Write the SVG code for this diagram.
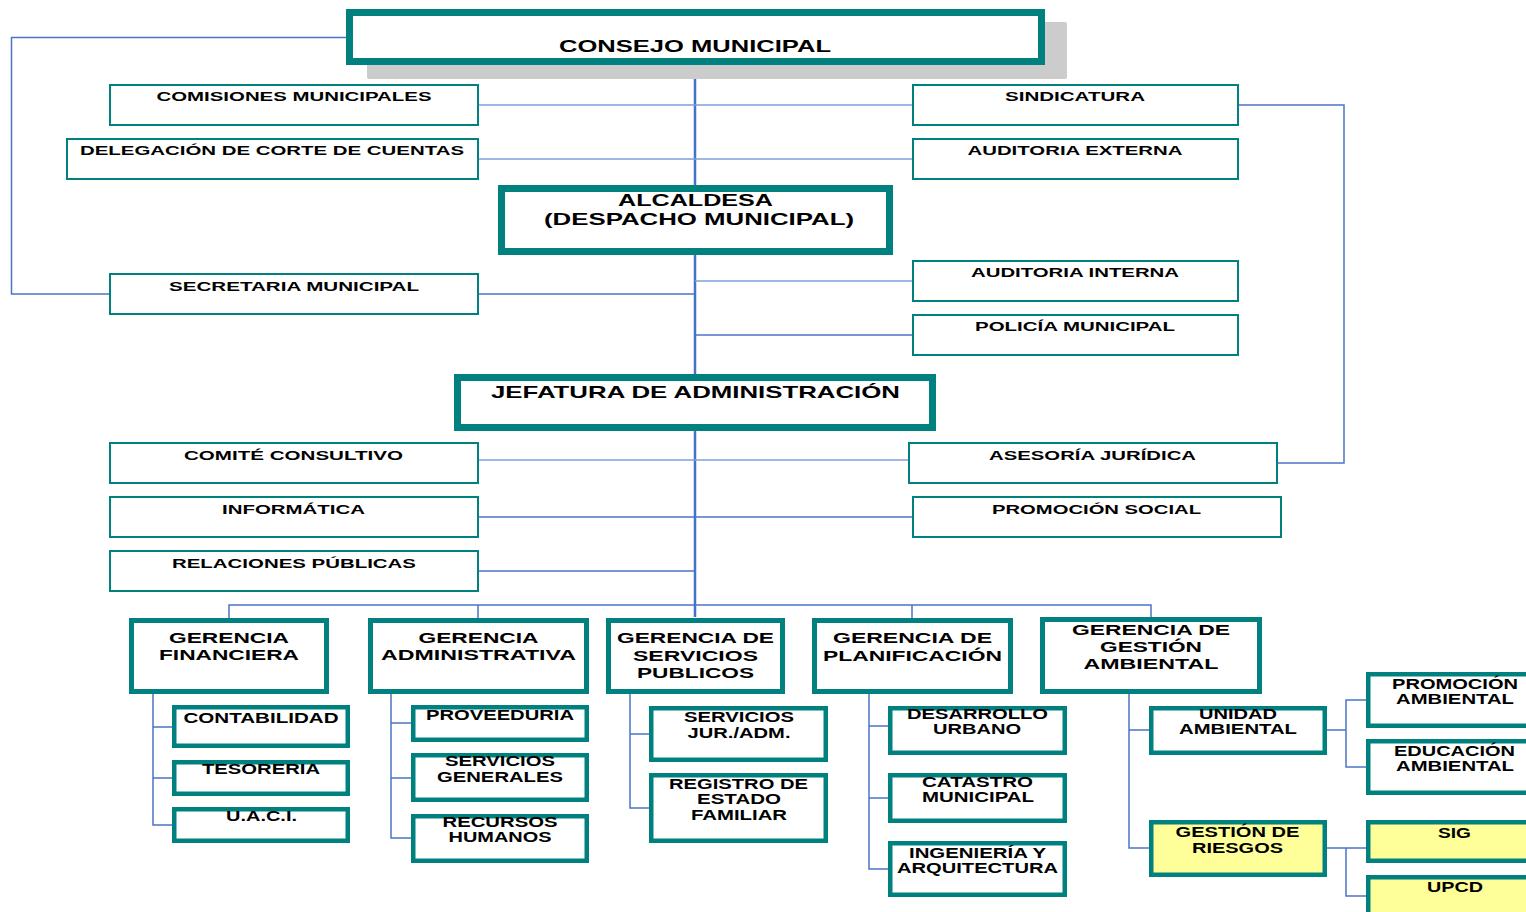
<svg xmlns="http://www.w3.org/2000/svg" width="1526" height="912" viewBox="0 0 1526 912">
<style>
.bg{fill:#ffffff}
.big{fill:#ffffff;stroke:#00807F;stroke-width:7}
.thin{fill:#ffffff;stroke:#00807F;stroke-width:2}
.ger{fill:#ffffff;stroke:#00807F;stroke-width:5}
.sub{fill:#ffffff;stroke:#00807F;stroke-width:4.5}
.yel{fill:#FFFF99;stroke:#00807F;stroke-width:4.5}
.c{fill:none;stroke:#4A74C6;stroke-width:1.5}
.cl{fill:none;stroke:#7E9FDA;stroke-width:1.5}
.cm{fill:none;stroke:#4472C4;stroke-width:2.5}
text{font-family:"Liberation Sans",Arial,sans-serif;font-weight:bold;fill:#000;text-anchor:middle}
.s17{font-size:17px}
.s15{font-size:15px}
.s14{font-size:14px}
.s13{font-size:13px}
</style>
<rect class="bg" x="0" y="0" width="1526" height="912"/>
<g id="connectors">
<path class="cm" d="M695 65 V617"/>
<path class="c" d="M346 37.5 H11.5 V294 H109"/>
<path class="cl" d="M479 105 H912"/>
<path class="cl" d="M479 159 H912"/>
<path class="c" d="M1239 105 H1344 V463 H1278"/>
<path class="c" d="M479 294 H695"/>
<path class="cl" d="M695 281 H912"/>
<path class="c" d="M695 335 H912"/>
<path class="cl" d="M479 460 H908"/>
<path class="c" d="M479 517 H912"/>
<path class="c" d="M479 571 H695"/>
<path class="c" d="M229 618 V605 H1151 V617"/>
<path class="c" d="M478 605 V618"/>
<path class="c" d="M912 605 V618"/>
<path class="c" d="M153 694 V825 H172 M153 727 H172 M153 778 H172"/>
<path class="c" d="M391 694 V838 H411 M391 723 H411 M391 778 H411"/>
<path class="c" d="M630 694 V808 H649 M630 734 H649"/>
<path class="c" d="M869 694 V869 H888 M869 726 H888 M869 798 H888"/>
<path class="c" d="M1129 694 V848 H1149 M1129 730 H1149"/>
<path class="c" d="M1327 730 H1346 M1366 700 H1346 V767 H1366"/>
<path class="c" d="M1327 848 H1366 M1346 848 V896 H1366"/>
</g>
<g id="consejo">
<rect x="367" y="22" width="700" height="57" rx="2" fill="#CCCCCC"/>
<rect class="big" x="349.5" y="12.5" width="692" height="49"/>
<text class="s17" x="695" y="52" textLength="272" lengthAdjust="spacingAndGlyphs">CONSEJO MUNICIPAL</text>
</g>
<g id="comisiones">
<rect class="thin" x="110" y="85" width="368" height="40"/>
<text class="s13" x="294" y="101" textLength="275" lengthAdjust="spacingAndGlyphs">COMISIONES MUNICIPALES</text>
</g>
<g id="delegacion">
<rect class="thin" x="67" y="139" width="411" height="40"/>
<text class="s13" x="272" y="155" textLength="384" lengthAdjust="spacingAndGlyphs">DELEGACIÓN DE CORTE DE CUENTAS</text>
</g>
<g id="sindicatura">
<rect class="thin" x="913" y="85" width="325" height="40"/>
<text class="s13" x="1075" y="101" textLength="140" lengthAdjust="spacingAndGlyphs">SINDICATURA</text>
</g>
<g id="auditoria-externa">
<rect class="thin" x="913" y="139" width="325" height="40"/>
<text class="s13" x="1075" y="155" textLength="215" lengthAdjust="spacingAndGlyphs">AUDITORIA EXTERNA</text>
</g>
<g id="alcaldesa">
<rect class="big" x="501.5" y="188.5" width="388" height="63"/>
<text class="s17" x="695.5" y="206" textLength="155" lengthAdjust="spacingAndGlyphs">ALCALDESA</text>
<text class="s17" x="699" y="225" textLength="310" lengthAdjust="spacingAndGlyphs">(DESPACHO MUNICIPAL)</text>
</g>
<g id="secretaria">
<rect class="thin" x="110" y="274" width="368" height="40"/>
<text class="s13" x="294" y="291" textLength="250" lengthAdjust="spacingAndGlyphs">SECRETARIA MUNICIPAL</text>
</g>
<g id="auditoria-interna">
<rect class="thin" x="913" y="261" width="325" height="40"/>
<text class="s13" x="1075" y="277" textLength="208" lengthAdjust="spacingAndGlyphs">AUDITORIA INTERNA</text>
</g>
<g id="policia">
<rect class="thin" x="913" y="315" width="325" height="40"/>
<text class="s13" x="1075" y="331" textLength="200" lengthAdjust="spacingAndGlyphs">POLICÍA MUNICIPAL</text>
</g>
<g id="jefatura">
<rect class="big" x="457.5" y="377.5" width="475" height="50"/>
<text class="s17" x="695.5" y="398" textLength="409" lengthAdjust="spacingAndGlyphs">JEFATURA DE ADMINISTRACIÓN</text>
</g>
<g id="comite">
<rect class="thin" x="110" y="443" width="368" height="40"/>
<text class="s13" x="293.5" y="460" textLength="219" lengthAdjust="spacingAndGlyphs">COMITÉ CONSULTIVO</text>
</g>
<g id="informatica">
<rect class="thin" x="110" y="497" width="368" height="40"/>
<text class="s13" x="293.5" y="514" textLength="143" lengthAdjust="spacingAndGlyphs">INFORMÁTICA</text>
</g>
<g id="relaciones">
<rect class="thin" x="110" y="551" width="368" height="40"/>
<text class="s13" x="294" y="568" textLength="244" lengthAdjust="spacingAndGlyphs">RELACIONES PÚBLICAS</text>
</g>
<g id="asesoria">
<rect class="thin" x="909" y="443" width="368" height="40"/>
<text class="s13" x="1092.5" y="460" textLength="207" lengthAdjust="spacingAndGlyphs">ASESORÍA JURÍDICA</text>
</g>
<g id="promocion-social">
<rect class="thin" x="913" y="497" width="368" height="40"/>
<text class="s13" x="1096.5" y="514" textLength="209" lengthAdjust="spacingAndGlyphs">PROMOCIÓN SOCIAL</text>
</g>
<g id="ger-financiera">
<rect class="ger" x="131.5" y="620.5" width="195" height="71"/>
<text class="s15" x="229" y="643" textLength="120" lengthAdjust="spacingAndGlyphs">GERENCIA</text>
<text class="s15" x="229" y="660" textLength="140" lengthAdjust="spacingAndGlyphs">FINANCIERA</text>
</g>
<g id="ger-administrativa">
<rect class="ger" x="370.5" y="620.5" width="216" height="71"/>
<text class="s15" x="478.5" y="643" textLength="120" lengthAdjust="spacingAndGlyphs">GERENCIA</text>
<text class="s15" x="478.5" y="660" textLength="195" lengthAdjust="spacingAndGlyphs">ADMINISTRATIVA</text>
</g>
<g id="ger-servicios">
<rect class="ger" x="608.5" y="620.5" width="174" height="71"/>
<text class="s15" x="695.5" y="643" textLength="157" lengthAdjust="spacingAndGlyphs">GERENCIA DE</text>
<text class="s15" x="695.5" y="661" textLength="125" lengthAdjust="spacingAndGlyphs">SERVICIOS</text>
<text class="s15" x="695.5" y="678" textLength="117" lengthAdjust="spacingAndGlyphs">PUBLICOS</text>
</g>
<g id="ger-planificacion">
<rect class="ger" x="814.5" y="620.5" width="196" height="71"/>
<text class="s15" x="912.5" y="643" textLength="159" lengthAdjust="spacingAndGlyphs">GERENCIA DE</text>
<text class="s15" x="912.5" y="661" textLength="179" lengthAdjust="spacingAndGlyphs">PLANIFICACIÓN</text>
</g>
<g id="ger-ambiental">
<rect class="ger" x="1042.5" y="619.5" width="217" height="72"/>
<text class="s15" x="1151" y="635" textLength="158" lengthAdjust="spacingAndGlyphs">GERENCIA DE</text>
<text class="s15" x="1151" y="652" textLength="102" lengthAdjust="spacingAndGlyphs">GESTIÓN</text>
<text class="s15" x="1151" y="669" textLength="135" lengthAdjust="spacingAndGlyphs">AMBIENTAL</text>
</g>
<g id="contabilidad">
<rect class="sub" x="174.25" y="707.25" width="173.5" height="38.5"/>
<text class="s14" x="261" y="723" textLength="155" lengthAdjust="spacingAndGlyphs">CONTABILIDAD</text>
</g>
<g id="tesoreria">
<rect class="sub" x="174.25" y="762.25" width="173.5" height="31.5"/>
<text class="s14" x="261" y="774" textLength="118" lengthAdjust="spacingAndGlyphs">TESORERIA</text>
</g>
<g id="uaci">
<rect class="sub" x="174.25" y="809.25" width="173.5" height="31.5"/>
<text class="s14" x="261.5" y="821" textLength="71" lengthAdjust="spacingAndGlyphs">U.A.C.I.</text>
</g>
<g id="proveeduria">
<rect class="sub" x="413.25" y="707.25" width="173.5" height="32.5"/>
<text class="s14" x="500" y="720" textLength="148" lengthAdjust="spacingAndGlyphs">PROVEEDURIA</text>
</g>
<g id="servicios-generales">
<rect class="sub" x="413.25" y="755.25" width="173.5" height="44.5"/>
<text class="s14" x="500" y="766" textLength="110" lengthAdjust="spacingAndGlyphs">SERVICIOS</text>
<text class="s14" x="500" y="782" textLength="126" lengthAdjust="spacingAndGlyphs">GENERALES</text>
</g>
<g id="recursos-humanos">
<rect class="sub" x="413.25" y="816.25" width="173.5" height="44.5"/>
<text class="s14" x="500" y="827" textLength="115" lengthAdjust="spacingAndGlyphs">RECURSOS</text>
<text class="s14" x="500" y="842" textLength="103" lengthAdjust="spacingAndGlyphs">HUMANOS</text>
</g>
<g id="servicios-jur">
<rect class="sub" x="651.25" y="708.25" width="174.5" height="51.5"/>
<text class="s14" x="739" y="722" textLength="110" lengthAdjust="spacingAndGlyphs">SERVICIOS</text>
<text class="s14" x="739" y="738" textLength="103" lengthAdjust="spacingAndGlyphs">JUR./ADM.</text>
</g>
<g id="registro">
<rect class="sub" x="651.25" y="775.25" width="174.5" height="65.5"/>
<text class="s14" x="738.5" y="789" textLength="139" lengthAdjust="spacingAndGlyphs">REGISTRO DE</text>
<text class="s14" x="739" y="804" textLength="84" lengthAdjust="spacingAndGlyphs">ESTADO</text>
<text class="s14" x="739" y="820" textLength="96" lengthAdjust="spacingAndGlyphs">FAMILIAR</text>
</g>
<g id="desarrollo">
<rect class="sub" x="890.25" y="708.25" width="174.5" height="44.5"/>
<text class="s14" x="977.5" y="719" textLength="141" lengthAdjust="spacingAndGlyphs">DESARROLLO</text>
<text class="s14" x="977" y="734" textLength="88" lengthAdjust="spacingAndGlyphs">URBANO</text>
</g>
<g id="catastro">
<rect class="sub" x="890.25" y="775.25" width="174.5" height="45.5"/>
<text class="s14" x="977.5" y="787" textLength="111" lengthAdjust="spacingAndGlyphs">CATASTRO</text>
<text class="s14" x="978" y="802" textLength="112" lengthAdjust="spacingAndGlyphs">MUNICIPAL</text>
</g>
<g id="ingenieria">
<rect class="sub" x="890.25" y="843.25" width="174.5" height="51.5"/>
<text class="s14" x="977.5" y="858" textLength="137" lengthAdjust="spacingAndGlyphs">INGENIERÍA Y</text>
<text class="s14" x="977.5" y="873" textLength="161" lengthAdjust="spacingAndGlyphs">ARQUITECTURA</text>
</g>
<g id="unidad-ambiental">
<rect class="sub" x="1151.25" y="708.25" width="173.5" height="44.5"/>
<text class="s14" x="1238" y="719" textLength="78" lengthAdjust="spacingAndGlyphs">UNIDAD</text>
<text class="s14" x="1238" y="734" textLength="118" lengthAdjust="spacingAndGlyphs">AMBIENTAL</text>
</g>
<g id="gestion-riesgos">
<rect class="yel" x="1151.25" y="822.25" width="173.5" height="52.5"/>
<text class="s14" x="1237.5" y="837" textLength="124" lengthAdjust="spacingAndGlyphs">GESTIÓN DE</text>
<text class="s14" x="1237.5" y="853" textLength="91" lengthAdjust="spacingAndGlyphs">RIESGOS</text>
</g>
<g id="promocion-ambiental">
<rect class="sub" x="1368.25" y="674.25" width="175" height="51.5"/>
<text class="s14" x="1455" y="689" textLength="126" lengthAdjust="spacingAndGlyphs">PROMOCIÓN</text>
<text class="s14" x="1455" y="704" textLength="118" lengthAdjust="spacingAndGlyphs">AMBIENTAL</text>
</g>
<g id="educacion-ambiental">
<rect class="sub" x="1368.25" y="741.25" width="175" height="51.5"/>
<text class="s14" x="1454.5" y="756" textLength="121" lengthAdjust="spacingAndGlyphs">EDUCACIÓN</text>
<text class="s14" x="1455" y="771" textLength="118" lengthAdjust="spacingAndGlyphs">AMBIENTAL</text>
</g>
<g id="sig">
<rect class="yel" x="1368.25" y="822.25" width="175" height="38.5"/>
<text class="s14" x="1454.5" y="838" textLength="33" lengthAdjust="spacingAndGlyphs">SIG</text>
</g>
<g id="upcd">
<rect class="yel" x="1368.25" y="877.25" width="175" height="55"/>
<text class="s14" x="1455" y="892" textLength="56" lengthAdjust="spacingAndGlyphs">UPCD</text>
</g>
</svg>
